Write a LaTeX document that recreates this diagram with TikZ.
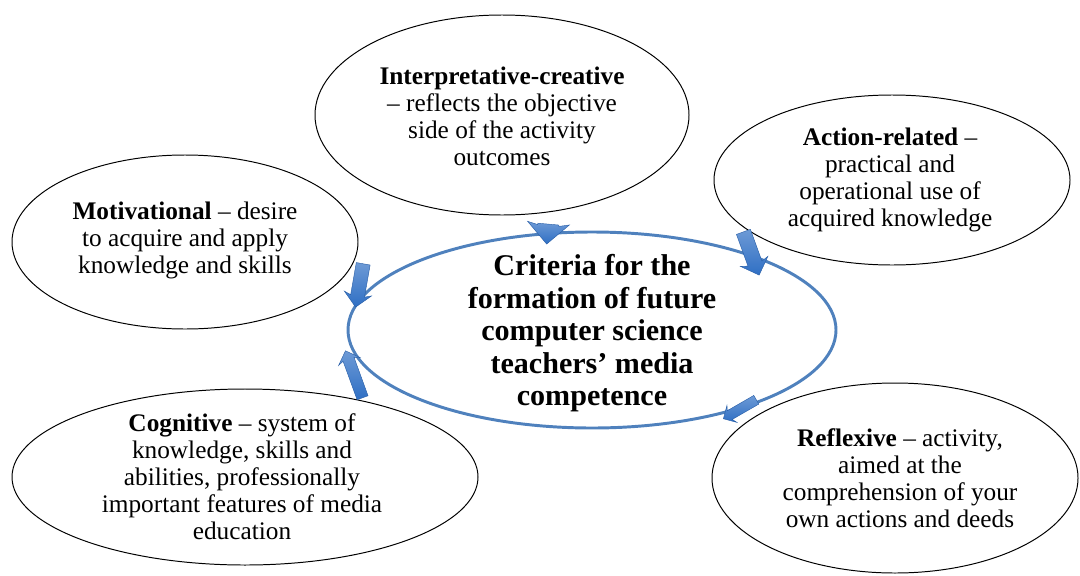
\documentclass[tikz,border=0pt]{standalone}
\usepackage{fontspec}
\setmainfont{Liberation Serif}
\usetikzlibrary{shapes.geometric,shapes.arrows}
\definecolor{critBlue}{HTML}{4F81BD}
\definecolor{critArrow}{HTML}{2F6FC4}

\begin{document}
\begin{tikzpicture}[
    oval/.style={draw=black,line width=0.7pt,ellipse,inner sep=0pt},
    txt/.style={align=center,inner sep=0pt,font=\fontsize{18}{19.2}\selectfont},
    blk/.style={single arrow,draw=critArrow!85!black,line width=0.3pt,
                top color=critArrow!70!white,bottom color=critArrow,
                inner xsep=0pt,inner ysep=#1,single arrow head extend=#1,
                single arrow head indent=0.06cm}]
  \useasboundingbox (0,0) rectangle (27,-14.375);
  % ovals
  \node[oval,minimum width=9.35cm,minimum height=5.0cm] (interp) at (12.55,-2.875) {};
  \node[oval,minimum width=8.9cm,minimum height=4.25cm] (action) at (22.3,-4.5) {};
  \node[oval,minimum width=8.65cm,minimum height=4.35cm] (motiv) at (4.625,-6.05) {};
  \node[oval,minimum width=11.65cm,minimum height=4.4cm] (cogn) at (6.125,-11.925) {};
  \node[oval,minimum width=9.15cm,minimum height=4.75cm] (reflex) at (22.375,-11.95) {};
  \node[oval,draw=critBlue,line width=2.1pt,minimum width=12.2cm,minimum height=4.9cm] (crit) at (14.8,-8.25) {};
  % texts
  \node[txt] (interpT) at (12.55,-2.9) {\textbf{Interpretative-creative}\\– reflects the objective\\side of the activity\\outcomes};
  \node[txt] (actionT) at (22.25,-4.5) {\textbf{Action-related} –\\practical and\\operational use of\\acquired knowledge};
  \node[txt] (motivT) at (4.625,-6.0) {\textbf{Motivational} – desire\\to acquire and apply\\knowledge and skills};
  \node[txt] (cognT) at (6.05,-11.925) {\textbf{Cognitive} – system of\\knowledge, skills and\\abilities, professionally\\important features of media\\education};
  \node[txt] (reflexT) at (22.5,-11.95) {\textbf{Reflexive} – activity,\\aimed at the\\comprehension of your\\own actions and deeds};
  \node[txt,font=\fontsize{21.4}{23.1}\selectfont\bfseries] (critT) at (14.8,-8.33)
    {Criteria for the\\formation of future\\computer science\\teachers’ media\\competence};
  % arrows
  \node[blk=0.26cm,rotate=-95,minimum height=0.5cm] (arInterp) at (13.7,-5.72) {};
  \node[blk=0.17cm,rotate=-100,minimum height=1.1cm] (arMotiv) at (9.0,-7.05) {};
  \node[blk=0.18cm,rotate=-70,minimum height=1.15cm] (arAction) at (18.75,-6.25) {};
  \node[blk=0.14cm,rotate=110,minimum height=1.25cm] (arCogn) at (8.875,-9.425) {};
  \node[blk=0.12cm,rotate=210,minimum height=0.95cm] (arReflex) at (18.55,-10.2) {};
\end{tikzpicture}
\end{document}
